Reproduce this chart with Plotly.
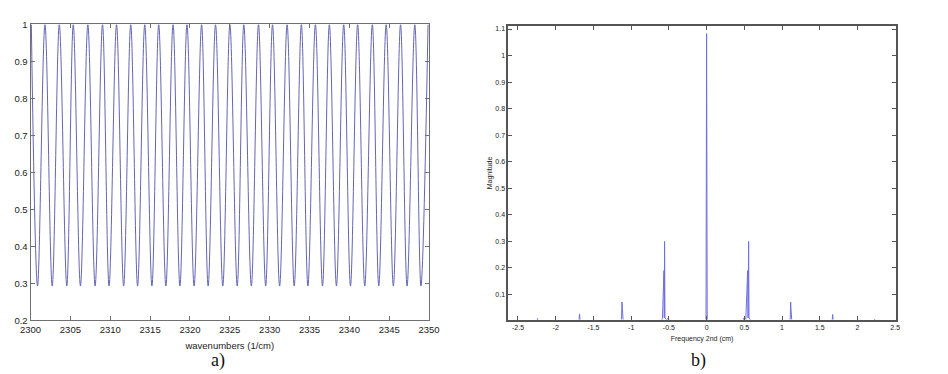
import plotly.graph_objects as go

# ---------------- panel a) data (read from picture) ----------------
wn_peaks = [2300.10, 2301.81, 2303.61, 2305.36, 2307.19, 2309.03, 2310.79, 2312.57,
            2314.33, 2316.08, 2317.88, 2319.63, 2321.46, 2323.21, 2325.01, 2326.76,
            2328.60, 2330.36, 2332.19, 2333.98, 2335.74, 2337.49, 2339.29, 2341.04,
            2342.88, 2344.62, 2346.42, 2348.21, 2349.87]
wn_minima = [2300.88, 2302.72, 2304.55, 2306.26, 2308.10, 2309.85, 2311.68, 2313.43,
             2315.23, 2316.98, 2318.74, 2320.52, 2322.28, 2324.12, 2325.93, 2327.70,
             2329.50, 2331.25, 2333.08, 2334.80, 2336.63, 2338.38, 2340.14, 2341.93,
             2343.69, 2345.52, 2347.24, 2348.98]
peak_level = 1.0
min_level = 0.293

a_xticks = [2300, 2305, 2310, 2315, 2320, 2325, 2330, 2335, 2340, 2345, 2350]
a_xticklabels = ["2300", "2305", "2310", "2315", "2320", "2325", "2330", "2335", "2340", "2345", "2350"]
a_yticks = [0.2, 0.3, 0.4, 0.5, 0.6, 0.7, 0.8, 0.9, 1.0]
a_yticklabels = ["0.2", "0.3", "0.4", "0.5", "0.6", "0.7", "0.8", "0.9", "1"]

# ---------------- panel b) data (read from picture) ----------------
spec_freq = [-2.63, -2.248, -2.241, -2.234, -1.692, -1.684, -1.676,
             -1.135, -1.128, -1.122, -1.116, -1.108, -1.10,
             -0.60, -0.585, -0.565, -0.561, -0.557, -0.552, -0.535, -0.505, -0.49,
             -0.008, 0.0, 0.004, 0.008,
             0.48, 0.497, 0.505, 0.52, 0.544, 0.55, 0.557, 0.562, 0.59,
             1.10, 1.108, 1.114, 1.118, 1.128, 1.135,
             1.663, 1.671, 1.679, 2.22, 2.228, 2.236, 2.51]
spec_mag = [0.0, 0.0, 0.010, 0.0, 0.0, 0.027, 0.0,
            0.0, 0.006, 0.072, 0.047, 0.008, 0.0,
            0.0, 0.012, 0.19, 0.012, 0.30, 0.012, 0.006, 0.010, 0.0,
            0.0, 1.083, 0.54, 0.0,
            0.0, 0.012, 0.0, 0.006, 0.19, 0.012, 0.30, 0.012, 0.0,
            0.0, 0.008, 0.072, 0.047, 0.006, 0.0,
            0.0, 0.025, 0.0, 0.0, 0.008, 0.0, 0.0]

b_xticks = [-2.5, -2, -1.5, -1, -0.5, 0, 0.5, 1, 1.5, 2, 2.5]
b_xticklabels = ["-2.5", "-2", "-1.5", "-1", "-0.5", "0", "0.5", "1", "1.5", "2", "2.5"]
b_yticks = [0.1, 0.2, 0.3, 0.4, 0.5, 0.6, 0.7, 0.8, 0.9, 1.0, 1.1]
b_yticklabels = ["0.1", "0.2", "0.3", "0.4", "0.5", "0.6", "0.7", "0.8", "0.9", "1", "1.1"]

# interleave extrema of the fringe pattern
wave_x, wave_y = [], []
for i, p in enumerate(wn_peaks):
    wave_x.append(p)
    wave_y.append(peak_level)
    if i < len(wn_minima):
        wave_x.append(wn_minima[i])
        wave_y.append(min_level)

W, H = 948, 374

fig = go.Figure()
fig.add_trace(go.Scatter(x=wave_x, y=wave_y, mode="lines",
                         line=dict(color="#4b4ba6", width=1, shape="spline"),
                         opacity=0.85,
                         xaxis="x", yaxis="y", showlegend=False, hoverinfo="skip"))
fig.add_trace(go.Scatter(x=spec_freq, y=spec_mag, mode="lines",
                         line=dict(color="#6f6fe0", width=1),
                         xaxis="x2", yaxis="y2", showlegend=False, hoverinfo="skip"))

ax_common = dict(showgrid=False, zeroline=False, showline=True, mirror="ticks",
                 ticks="inside", ticklen=4)

serif = "Liberation Serif, Times New Roman, serif"

fig.update_layout(
    width=W, height=H,
    margin=dict(l=0, r=0, t=0, b=0),
    paper_bgcolor="white", plot_bgcolor="white",
    font=dict(family="Liberation Sans, Arial, sans-serif", color="#222222"),
    xaxis=dict(domain=[20 / W, 428 / W], range=[2300, 2350], anchor="y",
               tickvals=a_xticks, ticktext=a_xticklabels,
               linecolor="#707070", linewidth=1, tickcolor="#707070",
               tickfont=dict(size=9.5),
               title=dict(text="wavenumbers (1/cm)", font=dict(size=9.5), standoff=8),
               **ax_common),
    yaxis=dict(domain=[1 - 324 / H, 1 - 19 / H], range=[0.2, 1.0], anchor="x",
               tickvals=a_yticks, ticktext=a_yticklabels,
               linecolor="#707070", linewidth=1, tickcolor="#707070",
               tickfont=dict(size=9.5), **ax_common),
    xaxis2=dict(domain=[509 / W, 906 / W], range=[-2.63, 2.51], anchor="y2",
                tickvals=b_xticks, ticktext=b_xticklabels,
                linecolor="#555555", linewidth=1.5, tickcolor="#555555",
                tickfont=dict(size=7),
                title=dict(text="Frequency 2nd (cm)", font=dict(size=7), standoff=6),
                **ax_common),
    yaxis2=dict(domain=[1 - 323 / H, 1 - 21 / H], range=[0.006, 1.11], anchor="x2",
                tickvals=b_yticks, ticktext=b_yticklabels,
                linecolor="#555555", linewidth=1.5, tickcolor="#555555",
                tickfont=dict(size=7),
                title=dict(text="Magnitude", font=dict(size=7), standoff=2),
                **ax_common),
    annotations=[
        dict(text="a)", x=212 / W, y=1 - 365 / H, xref="paper", yref="paper",
             xanchor="center", yanchor="middle", showarrow=False,
             font=dict(family=serif, size=18, color="#111111")),
        dict(text="b)", x=704 / W, y=1 - 365 / H, xref="paper", yref="paper",
             xanchor="center", yanchor="middle", showarrow=False,
             font=dict(family=serif, size=18, color="#111111")),
    ],
)

fig.write_html("out.html")
